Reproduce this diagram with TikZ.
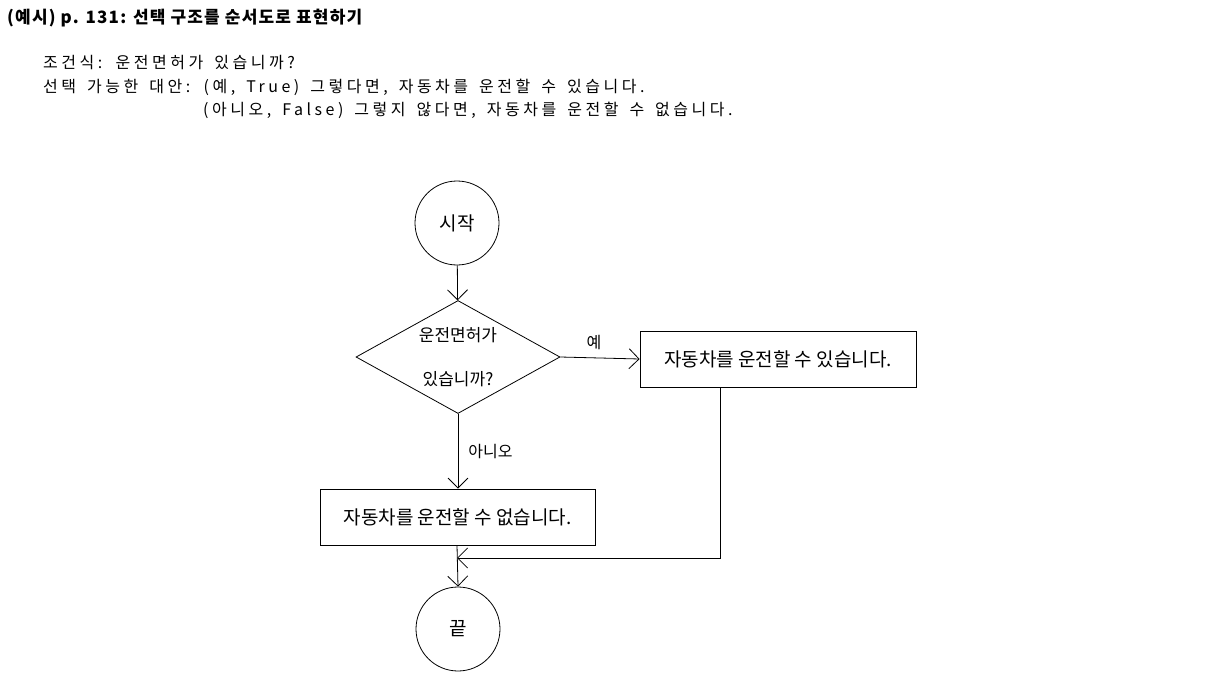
\documentclass[tikz,border=0pt]{standalone}
\usepackage{fontspec}
\setmainfont{Noto Sans CJK KR}
\newfontfamily\bodyfont{Noto Sans CJK KR}[LetterSpace=22,WordSpace=1.55]
\newfontfamily\titlefont{Noto Sans CJK KR}[LetterSpace=7]
\usetikzlibrary{shapes.geometric,arrows.meta}
\begin{document}
\begin{tikzpicture}[x=1pt,y=-1pt,
  every node/.style={inner sep=0pt},
  conn/.style={draw, line width=0.8pt, -{Straight Barb[length=10pt,width=20pt,line width=0.8pt]}},
  term/.style={circle, draw, line width=0.8pt, minimum size=84pt},
  proc/.style={rectangle, draw, line width=0.8pt},
  hand/.style={font=\fontsize{19}{22}\selectfont},
  lab/.style={font=\fontsize{16}{19}\selectfont},
  body/.style={font=\bodyfont\fontsize{16}{18}\selectfont, anchor=west}]
\useasboundingbox (0,0) rectangle (1230,679);
% header texts
\node[anchor=west, font=\titlefont\fontsize{17}{19}\selectfont\bfseries] (title) at (7,18) {(예시) p. 131: 선택 구조를 순서도로 표현하기};
\node[body] (l1) at (43,63) {조건식: 운전면허가 있습니까?};
\node[body] (l2) at (43,87) {선택 가능한 대안: (예, True) 그렇다면, 자동차를 운전할 수 있습니다.};
\node[body] (l3) at (203,110) {(아니오, False) 그렇지 않다면, 자동차를 운전할 수 없습니다.};
% flowchart
\node[term, hand] (start) at (457,223) {시작};
\node[diamond, draw, line width=0.8pt, minimum width=204pt, minimum height=113pt, aspect=1.8, align=center, font=\fontsize{17}{44}\selectfont] (cond) at (458,357) {운전면허가\\있습니까?};
\node[proc, minimum width=276pt, minimum height=56pt, hand] (yes) at (778,359) {자동차를 운전할 수 있습니다.};
\node[proc, minimum width=275pt, minimum height=56pt, hand] (no) at (457.5,517) {자동차를 운전할 수 없습니다.};
\node[term, hand] (end) at (458,629) {끝};
\coordinate (join) at (457,558);
\draw[conn] (start) -- (cond);
\draw[conn] (cond.east) -- node[above, yshift=8pt, xshift=-6pt, lab] (ylab) {예} (yes.west);
\draw[conn] (cond.south) -- node[right, xshift=10pt, lab] (nlab) {아니오} (no.north -| cond.south);
\draw[conn] (yes.south -| 720,0) |- (join);
\draw[conn] (no.south -| join) -- (end.north);
\end{tikzpicture}
\end{document}
